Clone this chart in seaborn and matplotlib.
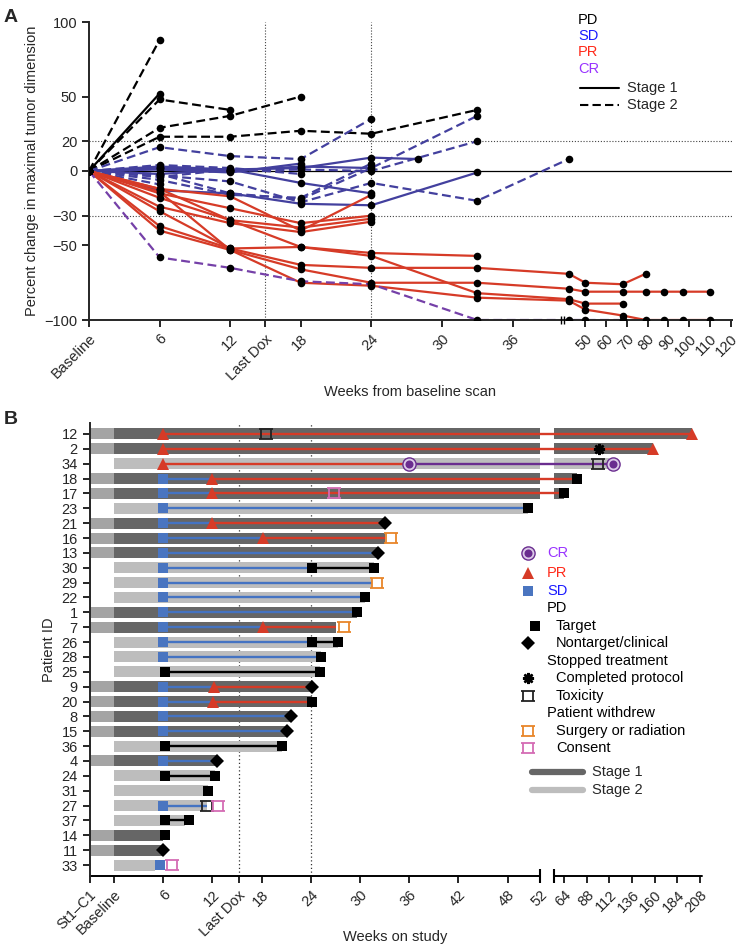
import numpy as np
import pandas as pd
import seaborn as sns
from matplotlib import pyplot as plt
from matplotlib.path import Path


# ---------------- panel A: tumour size per patient line ----------------
a_status = ["PD", "PD", "PD", "PD", "PD",
            "SD", "SD", "SD", "SD", "SD", "SD", "SD", "SD",
            "SD", "SD", "SD", "SD", "SD",
            "PR", "PR", "PR", "PR", "PR", "PR", "PR", "PR", "PR",
            "CR"]
a_stage = ["Stage 2", "Stage 1", "Stage 2", "Stage 2", "Stage 2",
           "Stage 2", "Stage 2", "Stage 2", "Stage 2", "Stage 2", "Stage 2", "Stage 2", "Stage 2",
           "Stage 1", "Stage 1", "Stage 1", "Stage 1", "Stage 1",
           "Stage 1", "Stage 1", "Stage 1", "Stage 1", "Stage 1", "Stage 1", "Stage 1", "Stage 1", "Stage 1",
           "Stage 2"]
a_weeks = [
    [0, 6], [0, 6], [0, 6, 12], [0, 6, 12, 18], [0, 6, 12, 18, 24, 33],
    [0, 6, 12, 18, 24], [0, 6, 12, 18, 24, 33, 42], [0, 6, 12, 18, 24, 33],
    [0, 6, 12, 18, 24, 33], [0, 6, 12, 18, 24], [0, 6, 12], [0, 6, 12, 18], [0, 6],
    [0, 6, 12, 18, 24, 33], [0, 6, 12, 18, 24], [0, 6, 12, 18, 24, 28],
    [0, 6, 12, 18, 24], [0, 6, 12, 18],
    [0, 6, 12, 18, 24], [0, 6, 12, 18, 24], [0, 6, 12, 18, 24], [0, 6, 12, 18, 24],
    [0, 6, 12, 18, 24, 33],
    [0, 6, 12, 18, 24, 33, 42, 50, 68, 79],
    [0, 6, 12, 18, 24, 33, 42, 50, 68, 79, 88, 97, 110],
    [0, 6, 12, 18, 24, 33, 42, 50, 68],
    [0, 6, 12, 18, 24, 33, 42, 50, 68, 79, 88, 97, 110],
    [0, 6, 12, 18, 24, 33, 42, 50, 68],
]
a_pct = [
    [0, 88], [0, 52], [0, 48, 41], [0, 29, 37, 50], [0, 23, 23, 27, 25, 41],
    [0, 16, 10, 8, 35], [0, -3, -7, -21, -8, -20, 8], [0, -2, -15, -19, 2, 37],
    [0, 2, 0, 1, 0, 20], [0, -6, -16, -18, 5], [0, -4, 1], [0, 4, 2, -2], [0, -9],
    [0, -13, -15, -22, -23, -1], [0, -2, 1, -8, -15], [0, 3, 1, 2, 9, 8],
    [0, 2, 0, 3, 2], [0, 1, -1, 5],
    [0, -12, -17, -40, -16], [0, -15, -25, -35, -30], [0, -18, -33, -38, -32],
    [0, -24, -35, -41, -34],
    [0, -27, -52, -51, -55, -57],
    [0, -37, -52, -63, -65, -65, -69, -75, -76, -69],
    [0, -40, -53, -66, -75, -75, -79, -81, -81, -81, -81, -81, -81],
    [0, -12, -33, -51, -57, -82, -86, -89, -89],
    [0, -14, -53, -75, -77, -85, -87, -93, -97, -100, -100, -100, -100],
    [0, -58, -65, -74, -76, -100, -100, -100, -100],
]
a_xticks = [0, 6, 12, 15, 18, 24, 30, 36, 50, 60, 70, 80, 90, 100, 110, 120]
a_xlabels = ["Baseline", "6", "12", "Last Dox", "18", "24", "30", "36",
             "50", "60", "70", "80", "90", "100", "110", "120"]
a_yticks = [-100, -50, -30, 0, 20, 50, 100]
a_ylabels = ["\u2212100", "\u221250", "\u221230", "0", "20", "50", "100"]

# ---------------- panel B: swimmer rows (top to bottom) ----------------
b_patient = ["12", "2", "34", "18", "17", "23", "21", "16", "13", "30", "29", "22", "1", "7", "26",
             "28", "25", "9", "20", "8", "15", "36", "4", "24", "31", "27", "37", "14", "11", "33"]
b_stage = [1, 1, 2, 1, 1, 2, 1, 1, 1, 2, 2, 2, 1, 1, 2,
           2, 2, 1, 1, 1, 1, 2, 1, 2, 2, 2, 2, 1, 1, 2]
b_bar_end = [200, 158, 112, 77.5, 64.3, 50.5, 33, 33, 32.2, 31.7, 31.5, 30.6, 29.6, 27.1, 27.3,
             25.2, 25.1, 24.1, 24.1, 21.6, 21.1, 20.5, 12.6, 12.3, 11.4, 11.3, 8.6, 6.0, 5.8, 5.0]
b_sd_start = [None, None, None, 6, 6, 6, 6, 6, 6, 6, 6, 6, 6, 6, 6,
              6, None, 6, 6, 6, 6, None, 6, None, None, 6, None, None, None, 5.6]
b_pr_start = [6, 6, 6, 12, 12, None, 12, 18.2, None, None, None, None, None, 18.2, None,
              None, None, 12.2, 12.1, None, None, None, None, None, None, None, None, None, None, None]
b_cr_start = [None, None, 36] + [None] * 27
b_pd_start = [None] * 9 + [24.1, None, None, None, None, 24.1,
                           None, 6.2, None, None, None, None, 6.2, None, 6.2, None, None, 6.2, None, None, None]
b_end_kind = ["PR", "PR", "CR", "target", "target", "target", "nontarget", "surgery", "nontarget",
              "target", "surgery", "target", "target", "surgery", "target", "target", "target",
              "nontarget", "target", "nontarget", "nontarget", "target", "nontarget", "target",
              "target", "toxicity", "target", "target", "nontarget", "consent"]
b_end_x = [200, 158, 116, 77.5, 64.3, 50.5, 33, 33.8, 32.2, 31.7, 32.1, 30.6, 29.6, 28, 27.3,
           25.2, 25.1, 24.1, 24.1, 21.6, 21.1, 20.5, 12.6, 12.3, 11.45, 11.3, 9.2, 6.2, 6.0, 7.1]
b_extra_patient = ["12", "2", "34", "17", "27"]
b_extra_kind = ["toxicity", "completed", "toxicity", "consent", "consent"]
b_extra_x = [18.5, 101, 100, 26.8, 12.7]
b_xticks = [-3, 0, 6, 12, 15.2, 18, 24, 30, 36, 42, 48, 52, 64, 88, 112, 136, 160, 184, 208]
b_xlabels = ["St1\u2013C1", "Baseline", "6", "12", "Last Dox", "18", "24", "30", "36", "42",
             "48", "52", "64", "88", "112", "136", "160", "184", "208"]

legend_b_labels = ["CR", "PR", "SD", "PD", "Target", "Nontarget/clinical", "Stopped treatment",
                   "Completed protocol", "Toxicity", "Patient withdrew", "Surgery or radiation", "Consent"]
legend_b_kinds = ["CR", "PR", "SD", None, "target", "nontarget", None,
                  "completed", "toxicity", None, "surgery", "consent"]

# colours
RED = "#D63B27"
SD_LINE = "#43409E"
CR_LINE = "#7540A8"
SQ_BLUE = "#4A75C0"
B_BLUE = "#4473C2"
PURPLE = "#6A2D8F"
ORANGE = "#E8862A"
PINK = "#D46CB4"
STAGE1_PRE = "#A4A4A4"
STAGE1 = "#666666"
STAGE2 = "#BDBDBD"

W, H = 739, 951


def fx(px):
    return px / W


def fy(py):
    return 1 - py / H


def piecewise(xp, up):
    return (lambda x: np.interp(x, xp, up), lambda u: np.interp(u, up, xp))


sns.set_theme(style="ticks")
plt.rcParams["font.family"] = ["Liberation Sans", "DejaVu Sans"]
plt.rcParams["font.size"] = 10
plt.rcParams["axes.linewidth"] = 1.4

fig = plt.figure(figsize=(W / 100, H / 100), dpi=100)

# ======================= panel A =======================
rows = []
for i, (st, sg, wk, pc) in enumerate(zip(a_status, a_stage, a_weeks, a_pct)):
    for w, p in zip(wk, pc):
        rows.append({"line": i, "status": st, "stage": sg, "week": w, "pct": p})
df_a = pd.DataFrame(rows)

ax_a = fig.add_axes([fx(89), fy(320), 643 / W, 298 / H])
ax_a.set_xscale("function", functions=piecewise([-50, 40, 41, 300],
                                                 [-50, 40, 40.6, 40.6 + 259 * 0.1766]))

ax_a.axhline(0, color="black", lw=0.9, zorder=1)
for yv in (20, -30):
    ax_a.axhline(yv, color="#444444", lw=0.8, ls=(0, (1, 1.6)), zorder=1)
for xv in (15, 24):
    ax_a.axvline(xv, color="#444444", lw=0.8, ls=(0, (1, 1.6)), zorder=1)

sns.lineplot(data=df_a, x="week", y="pct", hue="status", style="stage", units="line",
             estimator=None, sort=False, ax=ax_a, legend=False, lw=1.6,
             palette={"PD": "black", "SD": SD_LINE, "PR": RED, "CR": CR_LINE},
             dashes={"Stage 1": "", "Stage 2": (4, 2)})
sns.scatterplot(data=df_a, x="week", y="pct", color="black", s=30, linewidth=0,
                zorder=4, ax=ax_a, legend=False)
ax_a.plot([40.2, 40.6], [-100, -100], ls="none", marker="|", ms=6, mew=1,
          color="black", clip_on=False, zorder=5)

ax_a.set_xlim(0, 120.6)
ax_a.set_ylim(-100, 100)
ax_a.set_xticks(a_xticks, a_xlabels)
ax_a.set_yticks(a_yticks, a_ylabels)
plt.setp(ax_a.get_xticklabels(), rotation=45, ha="right", rotation_mode="anchor")
ax_a.tick_params(length=5, width=1.2, labelsize=10.5, color="black")
ax_a.set_xlabel("Weeks from baseline scan", fontsize=10.5)
ax_a.xaxis.set_label_coords(0.5, (320 - 385) / 298)
ax_a.set_ylabel("Percent change in maximal tumor dimension", fontsize=10.5, labelpad=4)
sns.despine(ax=ax_a)

for lbl, col, py in zip(["PD", "SD", "PR", "CR"], ["black", "#1a1aff", "#ff2a1a", "#9933ff"],
                        [20, 36, 52, 69]):
    fig.text(fx(578), fy(py), lbl, color=col, fontsize=10.5, va="center")
for lbl, ls, py in zip(["Stage 1", "Stage 2"], ["-", (0, (4, 2))], [88, 105]):
    ax_a.plot([fx(580), fx(619)], [fy(py), fy(py)], color="black", lw=1.5, ls=ls,
              transform=fig.transFigure, clip_on=False)
    fig.text(fx(627), fy(py), lbl, fontsize=10.5, va="center")

# ======================= panel B =======================
withdraw = Path([(-1.35, 1), (1.35, 1), (-1.35, -1), (1.35, -1),
                 (-1, 1), (-1, -1), (1, 1), (1, -1)],
                [Path.MOVETO, Path.LINETO] * 4)
MARKERS = {
    "SD": dict(marker="s", ms=7.2, mfc=SQ_BLUE, mec=SQ_BLUE, mew=0),
    "PR": dict(marker="^", ms=8.5, mfc=RED, mec=RED, mew=0),
    "PD": dict(marker="s", ms=6.8, mfc="black", mec="black", mew=0),
    "target": dict(marker="s", ms=6.8, mfc="black", mec="black", mew=0),
    "nontarget": dict(marker="D", ms=7, mfc="black", mec="black", mew=0),
    "surgery": dict(marker=withdraw, ms=9.5, mfc="none", mec=ORANGE, mew=1.3),
    "consent": dict(marker=withdraw, ms=9.5, mfc="none", mec=PINK, mew=1.3),
    "toxicity": dict(marker=withdraw, ms=9.5, mfc="none", mec="#222222", mew=1.3),
    "completed": dict(marker=(8, 2, 0), ms=8, mec="black", mew=1.8),
}
B_LINE = {"SD": B_BLUE, "PR": RED, "CR": PURPLE, "PD": "black"}


def draw_marker(ax, kind, x, y, **kw):
    if kind == "CR":
        ax.plot([x], [y], marker="o", ms=9.5, mfc="#dccbe8", mec=PURPLE, mew=1, ls="none", zorder=5, **kw)
        ax.plot([x], [y], marker="o", ms=5.8, mfc=PURPLE, mew=0, ls="none", zorder=6, **kw)
    else:
        ax.plot([x], [y], ls="none", zorder=5, **MARKERS[kind], **kw)


ax_b = fig.add_axes([fx(89.5), fy(876), 612.3 / W, 453 / H])
ax_b.set_xscale("function", functions=piecewise([-50, 52, 53, 400],
                                                 [-50, 52, 53.62, 53.62 + 347 * 0.1152]))
ax_b.set_xlim(-3, 210)
ax_b.set_ylim(len(b_patient) - 0.26, -0.74)

for xv in (15.2, 24):
    ax_b.axvline(xv, color="#333333", lw=0.9, ls=(0, (1, 2)), zorder=0.5)

for i, pid in enumerate(b_patient):
    y = i
    if b_stage[i] == 1:
        ax_b.barh(y, 3, left=-3, height=0.74, color=STAGE1_PRE, lw=0, zorder=1)
    main = STAGE1 if b_stage[i] == 1 else STAGE2
    end = b_bar_end[i]
    pieces = [(0, min(end, 52))]
    if end > 53:
        pieces.append((53, end))
    for a, b in pieces:
        ax_b.barh(y, b - a, left=a, height=0.74, color=main, lw=0, zorder=1)

    changes = []
    for start, status in ((b_sd_start[i], "SD"), (b_pr_start[i], "PR"),
                          (b_cr_start[i], "CR"), (b_pd_start[i], "PD")):
        if start is not None:
            changes.append((start, status))
    changes.sort()
    if b_end_kind[i] in ("PR", "CR", "target", "nontarget", "toxicity"):
        line_end = b_end_x[i]
    else:
        line_end = end
    for k, (start, status) in enumerate(changes):
        stop = changes[k + 1][0] if k + 1 < len(changes) else line_end
        if stop > start:
            ax_b.plot([start, stop], [y, y], color=B_LINE[status], lw=1.7,
                      solid_capstyle="butt", zorder=3)
    for start, status in changes:
        draw_marker(ax_b, status, start, y)
    draw_marker(ax_b, b_end_kind[i], b_end_x[i], y)

for pid, kind, x in zip(b_extra_patient, b_extra_kind, b_extra_x):
    draw_marker(ax_b, kind, x, b_patient.index(pid))

ax_b.set_yticks(range(len(b_patient)), b_patient)
ax_b.set_xticks(b_xticks, b_xlabels)
plt.setp(ax_b.get_xticklabels(), rotation=45, ha="right", rotation_mode="anchor")
ax_b.tick_params(length=5, width=1.2, labelsize=10.5, color="black")
sns.despine(ax=ax_b)
ax_b.spines["bottom"].set_visible(False)
trans = ax_b.get_xaxis_transform()
for x0, x1 in ((-3, 52), (53, 210)):
    ax_b.plot([x0, x1], [0, 0], color="black", lw=1.4, transform=trans, clip_on=False)
ax_b.plot([52, 53], [0, 0], ls="none", marker="|", ms=10, mew=1.5, color="black",
          transform=trans, clip_on=False)
ax_b.set_xlabel("Weeks on study", fontsize=10.5)
ax_b.xaxis.set_label_coords(0.5, (876 - 930) / 453)
ax_b.set_ylabel("Patient ID", fontsize=10.5, labelpad=4)

# legend of panel B
leg_y = [553, 573, 591, 608, 626, 643, 661, 678, 696, 713, 731, 748]
txt_col = {"CR": "#9933ff", "PR": "#ff2a1a", "SD": "#1a1aff"}
for lbl, kind, py in zip(legend_b_labels, legend_b_kinds, leg_y):
    head = kind in (None, "CR", "PR", "SD")
    fig.text(fx(547 if head else 556), fy(py), lbl, fontsize=10.5, va="center",
             color=txt_col.get(lbl, "black"))
    if kind is not None:
        draw_marker(ax_b, kind, fx(528 if kind != "target" else 535), fy(py),
                    transform=fig.transFigure, clip_on=False)
for lbl, col, py in zip(["Stage 1", "Stage 2"], [STAGE1, STAGE2], [772, 790]):
    ax_b.plot([fx(532), fx(583)], [fy(py), fy(py)], color=col, lw=4.5,
              solid_capstyle="round", transform=fig.transFigure, clip_on=False)
    fig.text(fx(592), fy(py), lbl, fontsize=10.5, va="center")

fig.text(fx(4), fy(17), "A", fontsize=14, weight="bold", va="center")
fig.text(fx(4), fy(420), "B", fontsize=14, weight="bold", va="center")

fig.savefig("out.png", dpi=100)
